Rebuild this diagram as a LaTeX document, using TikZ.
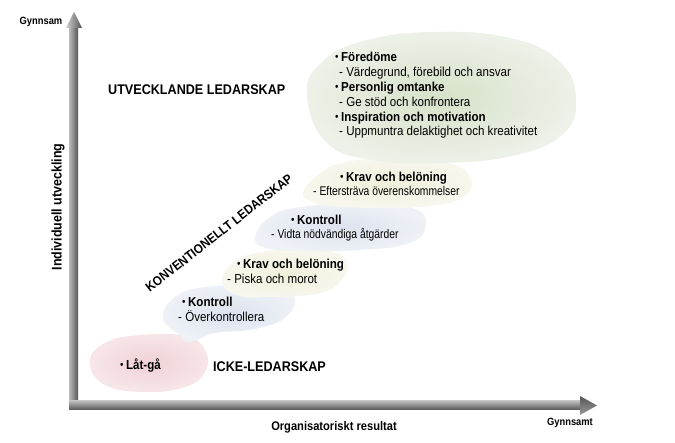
\documentclass[tikz,border=0pt]{standalone}
\usepackage{fontspec}
\setmainfont{Liberation Sans}
\newfontfamily\nf[FakeStretch=0.89]{Liberation Sans}
\newfontfamily\cf[FakeStretch=0.82]{Liberation Sans}
\newfontfamily\hf[FakeStretch=0.9]{Liberation Sans}
\definecolor{greenin}{HTML}{D6E1C9}
\definecolor{greenout}{HTML}{EDF1E8}
\definecolor{yelin}{HTML}{F1EFDA}
\definecolor{yelout}{HTML}{F8F7EE}
\definecolor{bluein}{HTML}{DCE2EE}
\definecolor{blueout}{HTML}{EEF1F6}
\definecolor{pinkin}{HTML}{F0D2D7}
\definecolor{pinkout}{HTML}{F7E6E8}
\definecolor{axisdark}{HTML}{555555}
\definecolor{axislight}{HTML}{BBBBBB}
\tikzset{
  txt/.style={inner sep=0pt, anchor=west, text height=9pt, text depth=2.5pt, font=\nf\fontsize{13}{15}\selectfont},
  btxt/.style={txt, font=\nf\bfseries\fontsize{13}{15}\selectfont},
  ctxt/.style={txt, font=\cf\fontsize{12.6}{15}\selectfont},
  head/.style={inner sep=0pt, anchor=west, text height=10pt, text depth=0pt, font=\hf\bfseries\fontsize{14}{16}\selectfont},
  axlab/.style={inner sep=0pt, font=\nf\bfseries\fontsize{12.5}{14}\selectfont},
  small/.style={inner sep=0pt, font=\nf\bfseries\fontsize{10.5}{12}\selectfont},
  blob/.style={smooth cycle, tension=0.75}
}
\newcommand{\bul}{{\mdseries\fontsize{11}{12}\selectfont\raisebox{0.3pt}{\textbullet}}\hspace{2.5pt}}
\begin{document}
\begin{tikzpicture}[x=1pt, y=-1pt]
\useasboundingbox (0,0) rectangle (675,443);
% blobs
\shade[inner color=pinkin, outer color=pinkout] plot[blob] coordinates {(90,362) (105,343) (140,335) (185,336) (205,350) (205,372) (185,387) (145,392) (105,385)};
\shade[inner color=bluein, outer color=blueout] plot[blob] coordinates {(163,318) (175,297) (205,287) (258,286) (292,294) (287,316) (255,329) (215,333) (190,342) (178,334)};
\shade[inner color=yelin, outer color=yelout] plot[blob] coordinates {(222,283) (234,262) (268,251) (320,250) (346,260) (340,282) (316,294) (270,297) (240,296)};
\shade[inner color=bluein, outer color=blueout] plot[blob] coordinates {(255,237) (270,217) (300,207) (360,204) (412,208) (426,224) (410,243) (360,250) (300,251) (266,248)};
\shade[inner color=yelin, outer color=yelout] plot[blob] coordinates {(303,193) (318,175) (345,162) (400,158) (450,163) (471,180) (462,198) (430,206) (380,208) (330,206) (311,201)};
\shade[inner color=greenin, outer color=greenout] plot[blob] coordinates {(307,95) (320,64) (360,42) (430,32) (510,38) (560,62) (576,100) (562,135) (512,156) (440,163) (372,160) (326,142)};
% axes
\shade[left color=axislight, right color=axisdark] (69,27) rectangle (78,410) coordinate (vshaft);
\shade[top color=axislight, bottom color=axisdark] (69,401) rectangle (582,410) coordinate (hshaft);
\shade[left color=axislight!70, right color=axisdark] (66,28) -- (74,12) -- (82,28) -- cycle;
\shade[top color=axisdark, bottom color=axisdark!60] (580,396) -- (597,405.5) -- (580,415) -- cycle;
% axis labels
\node[small] (gy) at (41,22) {Gynnsam};
\node[small] (gyt) at (570,423) {Gynnsamt};
\node[axlab] (org) at (334,427) {Organisatoriskt resultat};
\node[axlab, rotate=90, font=\nf\bfseries\fontsize{14}{16}\selectfont] (ind) at (58,207) {Individuell utveckling};
% headings
\node[head] (utv) at (108,90) {UTVECKLANDE LEDARSKAP};
\node[head] (icke) at (213,367) {ICKE-LEDARSKAP};
\node[inner sep=0pt, rotate=38, font=\hf\bfseries\fontsize{13}{15}\selectfont] (konv) at (219,233) {KONVENTIONELLT LEDARSKAP};
% green
\node[btxt] (f1) at (335,58) {\bul Föredöme};
\node[txt] (f2) at (339,73) {- Värdegrund, förebild och ansvar};
\node[btxt] (f3) at (335,88) {\bul Personlig omtanke};
\node[txt] (f4) at (339,103) {- Ge stöd och konfrontera};
\node[btxt] (f5) at (335,118) {\bul Inspiration och motivation};
\node[txt] (f6) at (339,132) {- Uppmuntra delaktighet och kreativitet};
% staircase
\node[btxt] (k1) at (340,178) {\bul Krav och belöning};
\node[ctxt] (k1b) at (313,192) {- Eftersträva överenskommelser};
\node[btxt] (c1) at (291,221) {\bul Kontroll};
\node[ctxt] (c1b) at (271,235) {- Vidta nödvändiga åtgärder};
\node[btxt] (k2) at (237,265) {\bul Krav och belöning};
\node[txt] (k2b) at (227,280) {- Piska och morot};
\node[btxt] (c2) at (182,303) {\bul Kontroll};
\node[txt] (c2b) at (178,318) {- Överkontrollera};
\node[btxt] (lg) at (120,366) {\bul Låt-gå};
\end{tikzpicture}
\end{document}
